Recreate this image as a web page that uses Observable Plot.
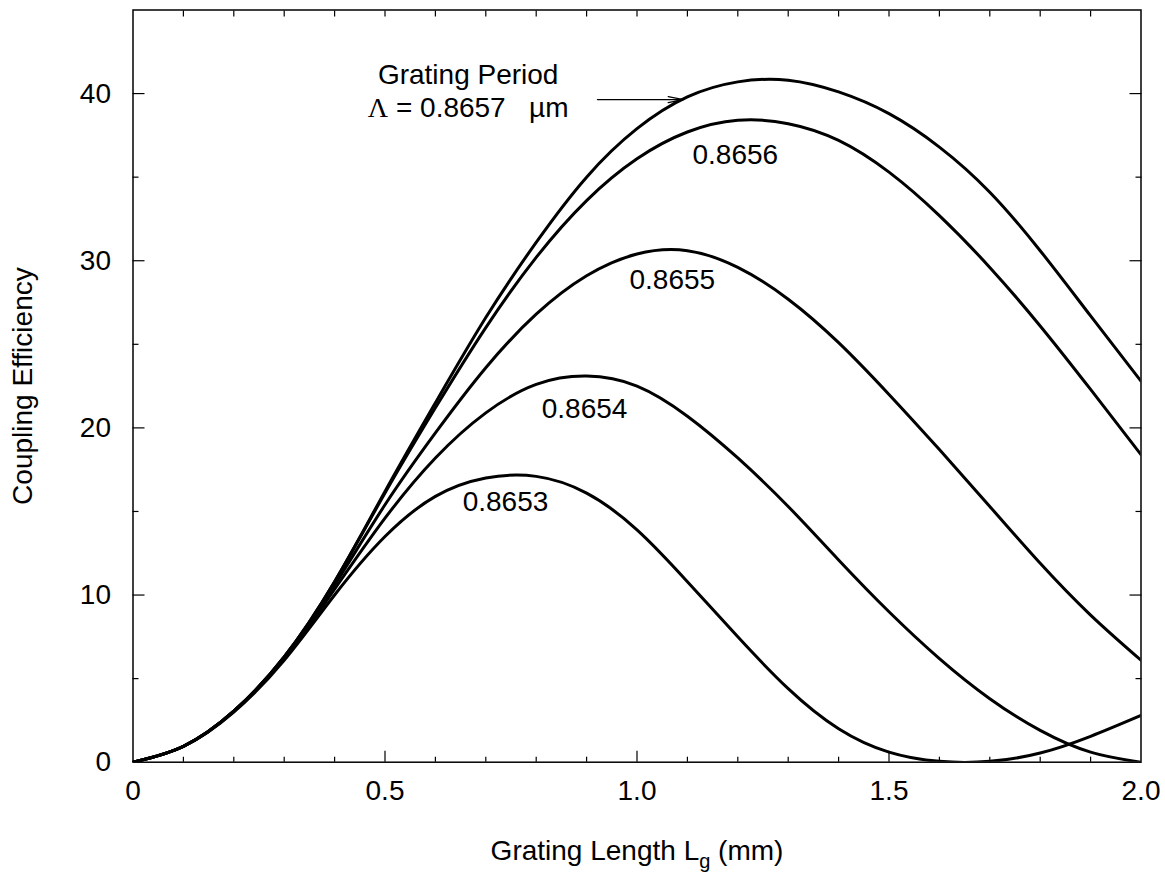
<!DOCTYPE html>
<html><head><meta charset="utf-8">
<script src="https://cdn.jsdelivr.net/npm/d3@7"></script>
<script src="https://cdn.jsdelivr.net/npm/@observablehq/plot@0.6"></script>
<style>
html,body{margin:0;padding:0;background:#fff;}
svg text{white-space:pre;}
</style></head><body><div id="chart"></div>
<script>
// Grating length (mm), common sampling
const gratingLength = [0,0.1,0.2,0.3,0.4,0.5,0.6,0.7,0.8,0.9,1.0,1.1,1.2,1.3,1.4,1.5,1.6,1.7,1.8,1.9,2.0];

// Coupling efficiency for each grating period (µm)
const eff8657 = [0,0.95,3.05,6.3,10.8,16.2,21.5,26.6,31.1,35.0,37.9,39.8,40.7,40.8,40.1,38.8,36.8,34.1,30.6,26.7,22.8];
const eff8656 = [0,0.95,3.05,6.3,10.8,16.1,21.2,26.0,30.2,33.6,36.1,37.7,38.4,38.2,37.2,35.3,32.7,29.6,26.1,22.3,18.4];
const eff8655 = [0,0.95,3.05,6.3,10.6,15.4,19.7,23.6,26.8,29.1,30.4,30.6,29.6,27.7,25.1,22.0,18.7,15.3,11.9,8.8,6.1];
const eff8654 = [0,0.95,3.05,6.2,10.35,14.6,18.2,20.9,22.6,23.1,22.5,20.7,18.2,15.3,12.1,9.0,6.2,3.8,1.9,0.6,0.0];
const eff8653 = [0,0.95,3.0,6.1,10.0,13.5,15.9,17.0,17.1,16.1,13.9,10.8,7.5,4.4,2.0,0.6,0.05,0.05,0.55,1.55,2.8];

// Curve labels
const curveLabels = ["0.8656","0.8655","0.8654","0.8653"];
const labelX = [1.195, 1.070, 0.896, 0.739];
const labelY = [36.35, 28.85, 21.1, 15.57];

// Annotation
const noteText = ["Grating Period", "Λ = 0.8657   µm"];
const noteX = [0.665, 0.665];
const noteY = [41.13, 39.12];
const arrowFromX = 0.9216, arrowToX = 1.0923, arrowY = 39.64;

// Ticks
const xLabelTicks = [0, 0.5, 1.0, 1.5, 2.0];
const xMajorInner = [0.5, 1.0, 1.5];
const xMinor = [0.1,0.2,0.3,0.4,0.6,0.7,0.8,0.9,1.1,1.2,1.3,1.4,1.6,1.7,1.8,1.9];
const xTop = [0.1,0.2,0.3,0.4,0.5,0.6,0.7,0.8,0.9,1.0,1.1,1.2,1.3,1.4,1.5,1.6,1.7,1.8,1.9];
const yLabelTicks = [0, 10, 20, 30, 40];
const yMajorInner = [10, 20, 30, 40];
const yMinor = [5, 15, 25, 35];

const series = [
  {period: "0.8657", eff: eff8657},
  {period: "0.8656", eff: eff8656},
  {period: "0.8655", eff: eff8655},
  {period: "0.8654", eff: eff8654},
  {period: "0.8653", eff: eff8653}
];
const rows = series.flatMap(s => gratingLength.map((l, i) => ({period: s.period, L: l, eff: s.eff[i]})));

const FONT = "'Liberation Sans', Arial, Helvetica, sans-serif";
const noText = () => "";

const chart = Plot.plot({
  width: 1165, height: 878,
  marginLeft: 132.5, marginRight: 24.5, marginTop: 9.5, marginBottom: 116.3,
  style: {fontFamily: FONT, fontSize: "28px", color: "#000", background: "#fff"},
  x: {domain: [0, 2], label: null},
  y: {domain: [0, 45], label: null},
  marks: [
    Plot.axisX(xMinor, {anchor: "bottom", tickSize: -5, tickFormat: noText, label: null, strokeWidth: 1.2}),
    Plot.axisX(xMajorInner, {anchor: "bottom", tickSize: -11, tickFormat: noText, label: null, strokeWidth: 1.2}),
    Plot.axisX(xLabelTicks, {anchor: "bottom", tickSize: 0, tickPadding: 18, label: null, fontSize: 28,
      tickFormat: d => d === 0 ? "0" : d.toFixed(1)}),
    Plot.axisX(xTop, {anchor: "top", tickSize: -6, tickFormat: noText, label: null, strokeWidth: 1.2}),
    Plot.axisY(yMinor, {anchor: "left", tickSize: -6, tickFormat: noText, label: null, strokeWidth: 1.2}),
    Plot.axisY(yMajorInner, {anchor: "left", tickSize: -12, tickFormat: noText, label: null, strokeWidth: 1.2}),
    Plot.axisY(yLabelTicks, {anchor: "left", tickSize: 0, tickPadding: 22, label: null, fontSize: 28,
      tickFormat: d => String(d)}),
    Plot.axisY(yMinor, {anchor: "right", tickSize: -6, tickFormat: noText, label: null, strokeWidth: 1.2}),
    Plot.axisY(yMajorInner, {anchor: "right", tickSize: -12, tickFormat: noText, label: null, strokeWidth: 1.2}),
    Plot.line(rows, {x: "L", y: "eff", z: "period", stroke: "#000", strokeWidth: 3, curve: "natural", clip: true}),
    Plot.frame({stroke: "#000", strokeWidth: 1.5}),
    Plot.text(curveLabels, {x: (d, i) => labelX[i], y: (d, i) => labelY[i], text: d => d,
      fontSize: 28, textAnchor: "middle", lineAnchor: "middle", fill: "#000"}),
    Plot.text(noteText, {x: (d, i) => noteX[i], y: (d, i) => noteY[i], text: d => d,
      fontSize: 28, textAnchor: "middle", lineAnchor: "middle", fill: "#000"}),
    Plot.arrow([0], {x1: () => arrowFromX, x2: () => arrowToX, y1: () => arrowY, y2: () => arrowY,
      stroke: "#000", strokeWidth: 1.3, headLength: 18, headAngle: 22}),
    Plot.text(["Coupling Efficiency"], {frameAnchor: "left", dx: -110, rotate: -90,
      fontSize: 28, textAnchor: "middle", lineAnchor: "middle", fill: "#000"}),
    Plot.text(["Grating Length Lg (mm)"], {frameAnchor: "bottom", dy: 89,
      fontSize: 28, textAnchor: "middle", lineAnchor: "middle", fill: "#000"})
  ]
});

document.getElementById("chart").appendChild(chart);

d3.select(chart).selectAll("text").each(function() {
  const t = this.textContent;
  const s = d3.select(this);
  if (t === "Grating Length Lg (mm)") {
    s.text(null);
    s.append("tspan").text("Grating Length L");
    s.append("tspan").attr("font-size", 20).attr("dy", 8).text("g");
    s.append("tspan").attr("dy", -8).text(" (mm)");
  } else if (t === "Λ = 0.8657   µm") {
    s.text(null);
    s.append("tspan").attr("font-family", "'Liberation Serif', 'DejaVu Serif', serif").text("Λ");
    s.append("tspan").text(" = 0.8657   µm");
  }
});
</script>
</body></html>
